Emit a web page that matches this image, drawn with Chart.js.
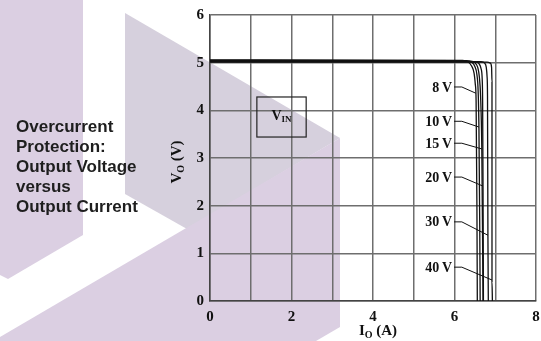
<!DOCTYPE html>
<html>
<head>
<meta charset="utf-8">
<script src="https://cdn.jsdelivr.net/npm/chart.js@4.4.0/dist/chart.umd.min.js"></script>
<style>
  html, body { margin: 0; padding: 0; background: #fff; }
</style>
</head>
<body>
<canvas id="myChart" width="541" height="341"></canvas>
<script>
// output current (A) / output voltage (V) traces, one per input voltage
const inputVoltages = ['8 V', '10 V', '15 V', '20 V', '30 V', '40 V'];
const curve8 = [[0, 5.06], [6.2, 5.05], [6.33, 5.02], [6.42, 4.93], [6.48, 4.78], [6.51, 4.55], [6.53, 4.2], [6.55, 2.0], [6.56, 0]];
const curve10 = [[0, 5.05], [6.3, 5.04], [6.42, 5.01], [6.5, 4.92], [6.55, 4.75], [6.58, 4.4], [6.6, 3.6], [6.62, 1.5], [6.63, 0]];
const curve15 = [[0, 5.04], [6.4, 5.03], [6.5, 5.0], [6.57, 4.9], [6.61, 4.7], [6.64, 4.3], [6.67, 3.2], [6.69, 1.2], [6.7, 0]];
const curve20 = [[0, 5.03], [6.5, 5.02], [6.6, 4.98], [6.65, 4.88], [6.68, 4.65], [6.69, 4.2], [6.7, 2.4], [6.71, 0]];
const curve30 = [[0, 5.02], [6.65, 5.02], [6.74, 4.99], [6.78, 4.9], [6.8, 4.7], [6.81, 4.3], [6.82, 1.4], [6.83, 0]];
const curve40 = [[0, 5.01], [6.8, 5.01], [6.88, 4.99], [6.91, 4.9], [6.92, 4.6], [6.92, 0.4], [6.93, 0]];
const curves = [curve8, curve10, curve15, curve20, curve30, curve40];

// where each callout text sits and where its leader touches the trace
const labelY = [4.49, 3.77, 3.31, 2.6, 1.66, 0.71];
const leaderY = [4.36, 3.65, 3.19, 2.41, 1.38, 0.44];

const xTicks = [0, 1, 2, 3, 4, 5, 6, 7, 8];
const yTicks = [0, 1, 2, 3, 4, 5, 6];
const titleLines = ['Overcurrent', 'Protection:', 'Output Voltage', 'versus', 'Output Current'];

const serif = '"Liberation Serif", "Times New Roman", serif';

// x position of a trace at a given voltage on its falling edge
const curveX = (pts, v) => {
  for (let k = pts.length - 1; k > 0; k--) {
    const a = pts[k - 1], b = pts[k];
    if (a[1] >= v && b[1] <= v) {
      const t = (a[1] - v) / (a[1] - b[1] || 1);
      return a[0] + t * (b[0] - a[0]);
    }
  }
  return pts[pts.length - 1][0];
};

// light logo shapes behind everything
const backdrop = {
  id: 'backdrop',
  beforeDraw(chart) {
    const c = chart.ctx;
    const poly = (pts, col) => {
      c.beginPath();
      c.moveTo(pts[0][0], pts[0][1]);
      pts.slice(1).forEach(p => c.lineTo(p[0], p[1]));
      c.closePath();
      c.fillStyle = col;
      c.fill();
    };
    c.save();
    c.fillStyle = '#fff';
    c.fillRect(0, 0, chart.width, chart.height);
    poly([[0, 0], [83, 0], [83, 235], [8, 279], [0, 275]], 'rgb(219,207,226)');
    poly([[125, 13], [340, 138], [187, 229], [125, 194]], 'rgb(214,208,221)');
    poly([[0, 337], [340, 138], [340, 327], [316, 341], [0, 341]], 'rgb(219,207,226)');
    c.restore();
  }
};

const annotations = {
  id: 'annotations',
  afterDraw(chart) {
    const c = chart.ctx;
    const xs = chart.scales.x, ys = chart.scales.y;
    c.save();

    // title block on the left
    c.fillStyle = '#1e1e1e';
    c.font = 'bold 17px "Liberation Sans", Arial, sans-serif';
    c.textBaseline = 'middle';
    c.textAlign = 'left';
    titleLines.forEach((t, i) => c.fillText(t, 16, 127 + i * 20));

    // callouts with leaders
    c.font = 'bold 14px ' + serif;
    c.textAlign = 'right';
    c.strokeStyle = '#111';
    c.lineWidth = 1;
    inputVoltages.forEach((lbl, i) => {
      const ty = ys.getPixelForValue(labelY[i]);
      const tx = xs.getPixelForValue(5.94);
      c.fillStyle = '#111';
      c.fillText(lbl.replace(' ', '\u2009'), tx, ty + 1);
      const ex = xs.getPixelForValue(curveX(curves[i], leaderY[i]));
      const ey = ys.getPixelForValue(leaderY[i]);
      c.beginPath();
      c.moveTo(tx + 2, ty);
      c.lineTo(xs.getPixelForValue(6.18), ty);
      c.lineTo(ex, ey);
      c.stroke();
    });

    // V_IN box
    const bx0 = xs.getPixelForValue(1.15), bx1 = xs.getPixelForValue(2.36);
    const by0 = ys.getPixelForValue(4.28), by1 = ys.getPixelForValue(3.44);
    c.strokeStyle = '#222';
    c.lineWidth = 1.2;
    c.strokeRect(bx0, by0, bx1 - bx0, by1 - by0);
    c.fillStyle = '#111';
    c.textAlign = 'left';
    c.font = 'bold 14px ' + serif;
    const vw = c.measureText('V').width;
    c.font = 'bold 9px ' + serif;
    const sw = c.measureText('IN').width;
    const sx = (bx0 + bx1) / 2 - (vw + sw) / 2;
    const sy = (by0 + by1) / 2;
    c.font = 'bold 14px ' + serif;
    c.fillText('V', sx, sy - 1);
    c.font = 'bold 9px ' + serif;
    c.fillText('IN', sx + vw, sy + 3);

    // axis titles with subscripts
    const subTitle = (main, sub, rest, x, y, rot) => {
      c.save();
      c.translate(x, y);
      c.rotate(rot);
      c.font = 'bold 15px ' + serif;
      const w1 = c.measureText(main).width;
      const w3 = c.measureText(rest).width;
      c.font = 'bold 10px ' + serif;
      const w2 = c.measureText(sub).width;
      const px = -(w1 + w2 + w3) / 2;
      c.textAlign = 'left';
      c.textBaseline = 'alphabetic';
      c.font = 'bold 15px ' + serif;
      c.fillText(main, px, 5);
      c.font = 'bold 10px ' + serif;
      c.fillText(sub, px + w1, 8);
      c.font = 'bold 15px ' + serif;
      c.fillText(rest, px + w1 + w2, 5);
      c.restore();
    };
    subTitle('V', 'O', ' (V)', 176, 162, -Math.PI / 2);
    subTitle('I', 'O', ' (A)', 378, 330, 0);
    c.restore();
  }
};

const ctx = document.getElementById('myChart');
const myChart = new Chart(ctx, {
  type: 'line',
  data: {
    datasets: curves.map((pts, i) => ({
      label: inputVoltages[i],
      data: pts.map(p => ({ x: p[0], y: p[1] })),
      borderColor: '#111',
      borderWidth: 1.3,
      pointRadius: 0,
      cubicInterpolationMode: 'monotone',
      fill: false
    }))
  },
  options: {
    responsive: false,
    animation: false,
    layout: { padding: { left: 0, top: 15, right: 5, bottom: 0 } },
    plugins: { legend: { display: false }, tooltip: { enabled: false } },
    scales: {
      x: {
        type: 'linear',
        min: 0, max: 8,
        afterBuildTicks: s => { s.ticks = xTicks.map(v => ({ value: v })); },
        afterFit: s => { s.height = 40; s.paddingLeft = 0; s.paddingRight = 0; },
        ticks: {
          callback: v => (v % 2 === 0 ? String(v) : ''),
          color: '#111',
          font: { family: serif, size: 15, weight: 'bold' },
          padding: 7,
          maxRotation: 0,
          autoSkip: false
        },
        grid: { color: '#6e6e6e', lineWidth: 1.5, drawTicks: false },
        border: { color: '#444', width: 1.5 }
      },
      y: {
        type: 'linear',
        min: 0, max: 6,
        afterBuildTicks: s => { s.ticks = yTicks.map(v => ({ value: v })); },
        afterFit: s => { s.width = 210; s.paddingTop = 0; s.paddingBottom = 0; },
        ticks: {
          color: '#111',
          font: { family: serif, size: 15, weight: 'bold' },
          padding: 6
        },
        grid: { color: '#6e6e6e', lineWidth: 1.5, drawTicks: false },
        border: { color: '#444', width: 1.5 }
      }
    }
  },
  plugins: [backdrop, annotations]
});
</script>
</body>
</html>
